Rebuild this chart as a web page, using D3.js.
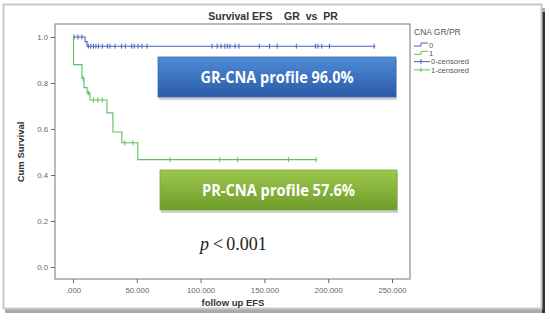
<!DOCTYPE html>
<html lang="en">
<head>
<meta charset="UTF-8">
<title>Survival EFS GR vs PR</title>
<script src="https://d3js.org/d3.v7.min.js"></script>
<style>
  body { margin: 0; background: #fff; }
</style>
</head>
<body>
<div id="chart"></div>
<script>
// Kaplan-Meier steps
const blueStepTimes = [0, 9.5, 11];
const blueStepSurv = [1.0, 0.98, 0.96];
const blueEnd = 237;
const blueCensored = [0.8, 3.9, 7, 12, 14, 16, 18, 20, 23, 27, 29, 33, 38, 41, 46, 48, 51, 54, 58,
  109, 113, 116, 119, 121, 123, 127, 130, 146, 154, 160, 175, 190, 192, 195, 201, 236];

const greenStepTimes = [0, 0.4, 7, 8.6, 11, 13.3, 26.6, 31.3, 38.3, 50.8];
const greenStepSurv = [1.0, 0.88, 0.82, 0.78, 0.757, 0.726, 0.67, 0.587, 0.54, 0.467];
const greenEnd = 191;
const greenCensored = [8, 12, 16, 19.5, 23, 40.5, 47, 76, 115, 129, 169, 190.5];

const xTicks = [0, 50, 100, 150, 200, 250];
const yTicks = [0, 0.2, 0.4, 0.6, 0.8, 1.0];
const legendLabels = ["0", "1", "0-censored", "1-censored"];
const boxLabels = ["GR-CNA profile 96.0%", "PR-CNA profile 57.6%"];

const W = 550, H = 321;
const blue = "#4a5fbc", green = "#5cc05c";
const sans = "'Liberation Sans', Arial, sans-serif";

const svg = d3.select("#chart").append("svg")
  .attr("width", W).attr("height", H)
  .style("font-family", sans);

const defs = svg.append("defs");
const gb = defs.append("linearGradient").attr("id", "gBlue").attr("x1", 0).attr("y1", 0).attr("x2", 0).attr("y2", 1);
gb.append("stop").attr("offset", "0%").attr("stop-color", "#4f8bd6");
gb.append("stop").attr("offset", "100%").attr("stop-color", "#2a5aa8");
const gg = defs.append("linearGradient").attr("id", "gGreen").attr("x1", 0).attr("y1", 0).attr("x2", 0).attr("y2", 1);
gg.append("stop").attr("offset", "0%").attr("stop-color", "#9cc84c");
gg.append("stop").attr("offset", "100%").attr("stop-color", "#6f9c2a");

// outer frame with shadow
svg.append("rect").attr("x", 5).attr("y", 8).attr("width", 540).attr("height", 305).attr("fill", "#aaa");
svg.append("rect").attr("x", 542).attr("y", 12).attr("width", 3).attr("height", 301).attr("fill", "#333");
svg.append("rect").attr("x", 3.5).attr("y", 4.5).attr("width", 538).attr("height", 304)
  .attr("fill", "#fff").attr("stroke", "#c8c8c8").attr("stroke-width", 2);

const x = d3.scaleLinear().domain([0, 250]).range([73, 392]);
const y = d3.scaleLinear().domain([0, 1]).range([267, 37]);
const plot = { left: 55, right: 410, top: 24, bottom: 279 };

// plot frame
svg.append("rect").attr("x", plot.left).attr("y", plot.top)
  .attr("width", plot.right - plot.left).attr("height", plot.bottom - plot.top)
  .attr("fill", "#fff").attr("stroke", "#777").attr("stroke-width", 1);

// axes
svg.append("g")
  .attr("transform", `translate(0,${plot.bottom})`)
  .call(d3.axisBottom(x).tickValues(xTicks).tickSize(4).tickFormat(d => d === 0 ? ".000" : d3.format(".3f")(d)))
  .call(g => g.select(".domain").remove())
  .call(g => g.selectAll("line").attr("stroke", "#666"))
  .call(g => g.selectAll("text").attr("fill", "#666").attr("font-size", 7.8).attr("dy", "0.9em")
    .style("font-family", sans));

svg.append("g")
  .attr("transform", `translate(${plot.left},0)`)
  .call(d3.axisLeft(y).tickValues(yTicks).tickSize(4).tickFormat(d3.format(".1f")))
  .call(g => g.select(".domain").remove())
  .call(g => g.selectAll("line").attr("stroke", "#666"))
  .call(g => g.selectAll("text").attr("fill", "#666").attr("font-size", 7.8).style("font-family", sans));

// titles
svg.append("text").attr("x", 273).attr("y", 20).attr("text-anchor", "middle")
  .attr("font-size", 10.5).attr("font-weight", "bold").attr("fill", "#333")
  .style("white-space", "pre").text("Survival EFS    GR  vs  PR");
svg.append("text").attr("x", 233).attr("y", 306).attr("text-anchor", "middle")
  .attr("font-size", 9.5).attr("font-weight", "bold").attr("fill", "#333").text("follow up EFS");
svg.append("text").attr("transform", "translate(24,152) rotate(-90)").attr("text-anchor", "middle")
  .attr("font-size", 9.5).attr("font-weight", "bold").attr("fill", "#333").text("Cum Survival");

function survAt(times, surv, t) {
  let s = surv[0];
  times.forEach((tt, i) => { if (tt <= t) s = surv[i]; });
  return s;
}

function kmPath(times, surv, end) {
  const pts = [];
  times.forEach((t, i) => {
    if (i > 0) pts.push([t, surv[i - 1]]);
    pts.push([t, surv[i]]);
  });
  pts.push([end, surv[surv.length - 1]]);
  return d3.line().x(d => x(d[0])).y(d => y(d[1]))(pts);
}

function drawCurve(times, surv, end, cens, color) {
  svg.append("path").attr("d", kmPath(times, surv, end))
    .attr("fill", "none").attr("stroke", color).attr("stroke-width", 1.1);
  svg.append("g").selectAll("line").data(cens).join("line")
    .attr("x1", d => x(d)).attr("x2", d => x(d))
    .attr("y1", d => y(survAt(times, surv, d)) - 2.5)
    .attr("y2", d => y(survAt(times, surv, d)) + 2.5)
    .attr("stroke", color).attr("stroke-width", 1);
}

drawCurve(blueStepTimes, blueStepSurv, blueEnd, blueCensored, blue);
drawCurve(greenStepTimes, greenStepSurv, greenEnd, greenCensored, green);

// label boxes
function labelBox(x0, y0, w, h, fill, stroke, label) {
  svg.append("rect").attr("x", x0 + 1).attr("y", y0 + 3).attr("width", w).attr("height", h)
    .attr("fill", "#000").attr("opacity", 0.18);
  svg.append("rect").attr("x", x0).attr("y", y0).attr("width", w).attr("height", h)
    .attr("fill", fill).attr("stroke", stroke).attr("stroke-width", 0.8);
  svg.append("text").attr("x", x0 + w / 2).attr("y", y0 + h / 2 + 6).attr("text-anchor", "middle")
    .style("font-family", "'Open Sans', sans-serif").attr("font-size", 16).attr("font-weight", "bold")
    .attr("textLength", 153).attr("lengthAdjust", "spacingAndGlyphs")
    .attr("fill", "#fff").text(label);
}
labelBox(158, 57, 238, 40, "url(#gBlue)", "#3a6cb8", boxLabels[0]);
labelBox(160, 170, 237, 40, "url(#gGreen)", "#7da83a", boxLabels[1]);

// p value
const pText = svg.append("text").attr("x", 200).attr("y", 250)
  .style("font-family", "'Liberation Serif', 'Times New Roman', serif").attr("font-size", 18).attr("fill", "#222");
pText.append("tspan").attr("font-style", "italic").text("p");
pText.append("tspan").attr("dx", 4).text("<");
pText.append("tspan").attr("dx", 3).text("0.001");

// legend
svg.append("text").attr("x", 414).attr("y", 35).attr("font-size", 8.5).attr("fill", "#555").text("CNA GR/PR");
const legColors = [blue, green, blue, green];
legendLabels.forEach((lab, i) => {
  const cy = 45 + i * 8.3;
  const g = svg.append("g");
  if (i < 2) {
    g.append("path").attr("d", `M414,${cy + 1} H421 V${cy - 2} H428`)
      .attr("fill", "none").attr("stroke", legColors[i]).attr("stroke-width", 1);
  } else {
    g.append("line").attr("x1", 414).attr("x2", 430).attr("y1", cy).attr("y2", cy)
      .attr("stroke", legColors[i]).attr("stroke-width", 1);
    g.append("line").attr("x1", 421).attr("x2", 421).attr("y1", cy - 2.5).attr("y2", cy + 2.5)
      .attr("stroke", legColors[i]).attr("stroke-width", 1);
  }
  g.append("text").attr("x", i < 2 ? 429 : 431).attr("y", cy + 2.7).attr("font-size", 7.6)
    .attr("fill", "#555").text(lab);
});
</script>
</body>
</html>
